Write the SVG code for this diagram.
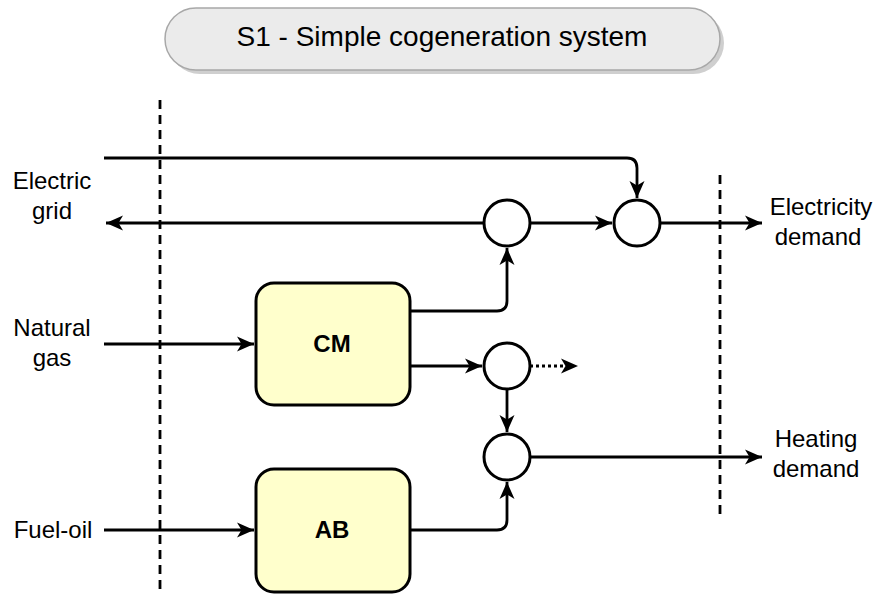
<svg xmlns="http://www.w3.org/2000/svg" width="876" height="595" viewBox="0 0 876 595">
<style>
.t{font-family:"Liberation Sans",Arial,sans-serif;font-size:24px;fill:#000;text-anchor:middle}
.b{font-weight:bold}
.ln{fill:none;stroke:#000;stroke-width:2.8}
.dash{fill:none;stroke:#000;stroke-width:2.8;stroke-dasharray:9 6}
.box{fill:#ffffcc;stroke:#000;stroke-width:3}
.c{fill:#fff;stroke:#000;stroke-width:3}
</style>
<defs>
<marker id="a" markerUnits="userSpaceOnUse" markerWidth="18" markerHeight="16" refX="17" refY="8" orient="auto">
<path d="M0,0.5 L17,8 L0,15.5 L4.5,8 z" fill="#000"/>
</marker>
</defs>
<g id="title">
<rect x="169" y="12" width="555" height="62" rx="31" fill="#cfcfcf"/>
<rect x="165" y="8" width="555" height="62" rx="31" fill="#ebebeb" stroke="#a8a8a8" stroke-width="1.5"/>
<text class="t" x="442" y="46" style="font-size:28px">S1 - Simple cogeneration system</text>
</g>
<g id="boundaries">
<line class="dash" x1="160" y1="100" x2="160" y2="592"/>
<line class="dash" x1="720" y1="175" x2="720" y2="518"/>
</g>
<g id="connectors">
<path class="ln" d="M104,158 H627 Q637,158 637,168 V198" marker-end="url(#a)"/>
<path class="ln" d="M484,223 H106" marker-end="url(#a)"/>
<path class="ln" d="M530,223 H612" marker-end="url(#a)"/>
<path class="ln" d="M660,223 H762" marker-end="url(#a)"/>
<path class="ln" d="M410,311 H497 Q507,311 507,301 V248" marker-end="url(#a)"/>
<path class="ln" d="M410,366 H482" marker-end="url(#a)"/>
<path class="ln" d="M530,366 H563" stroke-dasharray="3 3"/>
<path d="M561,358.5 L578,366 L561,373.5 L565.5,366 z" fill="#000"/>
<path class="ln" d="M507,389 V432" marker-end="url(#a)"/>
<path class="ln" d="M530,457 H762" marker-end="url(#a)"/>
<path class="ln" d="M410,530 H497 Q507,530 507,520 V482" marker-end="url(#a)"/>
<path class="ln" d="M104,344 H254" marker-end="url(#a)"/>
<path class="ln" d="M104,530 H254" marker-end="url(#a)"/>
</g>
<g id="CM">
<rect class="box" x="256" y="283" width="154" height="122" rx="18"/>
<text class="t b" x="332" y="352">CM</text>
</g>
<g id="AB">
<rect class="box" x="256" y="469" width="154" height="123" rx="18"/>
<text class="t b" x="332" y="538">AB</text>
</g>
<g id="n1"><circle class="c" cx="507" cy="223" r="23"/></g>
<g id="n2"><circle class="c" cx="637" cy="223" r="23"/></g>
<g id="n3"><circle class="c" cx="507" cy="366" r="23"/></g>
<g id="n4"><circle class="c" cx="507" cy="457" r="23"/></g>
<g id="labels">
<text class="t" x="52" y="189">Electric</text>
<text class="t" x="52" y="219">grid</text>
<text class="t" x="52" y="336">Natural</text>
<text class="t" x="52" y="366">gas</text>
<text class="t" x="53" y="538">Fuel-oil</text>
<text class="t" x="821" y="215">Electricity</text>
<text class="t" x="818" y="245">demand</text>
<text class="t" x="816" y="447">Heating</text>
<text class="t" x="816" y="477">demand</text>
</g>
</svg>
